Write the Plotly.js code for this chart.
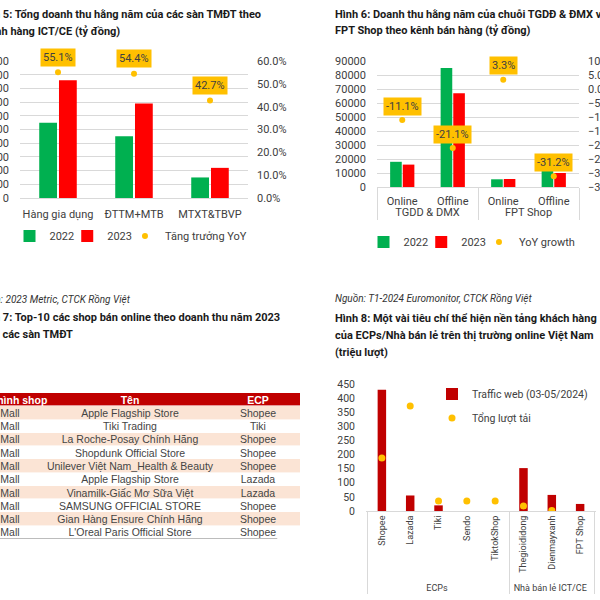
<!DOCTYPE html>
<html><head><meta charset="utf-8">
<script src="https://cdn.plot.ly/plotly-3.0.1.min.js"></script>
<style>
html,body{margin:0;padding:0;background:#fff;}
#page{position:relative;width:600px;height:600px;overflow:hidden;background:#fff;}
.p{position:absolute;}
</style></head><body>
<div id="page">
<div id="pa" class="p" style="left:-60px;top:0;width:360px;height:280px"></div>
<div id="pb" class="p" style="left:300px;top:0;width:340px;height:280px"></div>
<div id="pc" class="p" style="left:-60px;top:280px;width:360px;height:320px"></div>
<div id="pd" class="p" style="left:300px;top:280px;width:340px;height:320px"></div>
</div>
<script>
// ---------- DATA ----------
// Hình 5
const catsA = ['Hàng gia dụng', 'ĐTTM+MTB', 'MTXT&TBVP'];
const a2022 = [11000, 9000, 3000];
const a2023 = [17200, 13800, 4400];
const aYoY = [0.551, 0.544, 0.427];
// Hình 6
const groupsB = ['TGDD & DMX', 'TGDD & DMX', 'FPT Shop', 'FPT Shop'];
const chanB = ['Online', 'Offline', 'Online', 'Offline'];
const b2022 = [18000, 85000, 5500, 13000];
const b2023 = [16000, 67000, 5700, 10000];
const bYoY = [-0.111, -0.211, 0.033, -0.312];
// Hình 7
const tableHeader = ['Loại hình shop', 'Tên', 'ECP'];
const shopType = ['Mall','Mall','Mall','Mall','Mall','Mall','Mall','Mall','Mall','Mall'];
const shopName = ['Apple Flagship Store','Tiki Trading','La Roche-Posay Chính Hãng','Shopdunk Official Store',
  'Unilever Việt Nam_Health & Beauty','Apple Flagship Store','Vinamilk-Giấc Mơ Sữa Việt','SAMSUNG OFFICIAL STORE',
  'Gian Hàng Ensure Chính Hãng',"L'Oreal Paris Official Store"];
const shopECP = ['Shopee','Tiki','Shopee','Shopee','Shopee','Lazada','Lazada','Shopee','Shopee','Shopee'];
// Hình 8
const groupsD = ['ECPs','ECPs','ECPs','ECPs','ECPs','Nhà bán lẻ ICT/CE','Nhà bán lẻ ICT/CE','Nhà bán lẻ ICT/CE'];
const platD = ['Shopee','Lazada','Tiki','Sendo','TiktokShop','Thegioididong','Dienmayxanh','FPT Shop'];
const traffic = [430, 55, 20, null, null, 152, 57, 25];
const downloads = [188, 372, 35, 35, 35, 18, 2, null];

// ---------- STYLE ----------
const F = 'Roboto, "Liberation Sans", sans-serif';
const TF = '"Liberation Sans", Arial, sans-serif';
const TXT = '#404040';
const GRID = '#d9d9d9';
const GREEN = '#00b050', RED = '#ff0000', YEL = '#ffc000', DRED = '#c00000';
function mk(W,H,m){return {x:px=>(px-m.l)/(W-m.l-m.r), y:py=>1-(py-m.t)/(H-m.t-m.b)};}
function txt(c, px, py, text, opt){
  opt = opt || {};
  return {xref:'paper', yref:'paper', x:c.x(px), y:c.y(py), xanchor:'left', yanchor:'middle',
    showarrow:false, text:text,
    font:{family:F, size:opt.size||11, color:opt.color||'#1a1a1a', weight:opt.weight||700, style:opt.style||'normal'}};
}
const cfg = {displayModeBar:false, staticPlot:true};
const legH = {orientation:'h', xanchor:'center', yanchor:'middle', indentation:-12, itemwidth:30, font:{size:11,color:TXT}};

// ---------- PANEL A ----------
const mA = {l:80, r:52, t:61, b:82};
const cA = mk(360,280,mA);
Plotly.newPlot('pa', [
  {type:'bar', name:'2022', x:catsA, y:a2022, marker:{color:GREEN}},
  {type:'bar', name:'2023', x:catsA, y:a2023, marker:{color:RED}},
  {type:'scatter', mode:'markers', name:'Tăng trưởng YoY', x:catsA, y:aYoY, yaxis:'y2', marker:{color:YEL, size:6}}
], {
  width:360, height:280, margin:mA, paper_bgcolor:'rgba(0,0,0,0)', plot_bgcolor:'rgba(0,0,0,0)',
  font:{family:F, size:11, color:TXT}, showlegend:true,
  barmode:'group', bargap:0.48, bargroupgap:0.1,
  xaxis:{type:'category', showline:true, linecolor:GRID, ticks:'', ticklabelstandoff:6, tickfont:{size:11, color:TXT}},
  yaxis:{range:[0,20000], dtick:2000, tickformat:'d', gridcolor:GRID, zeroline:false, ticklabelstandoff:10, tickfont:{size:11,color:TXT}},
  yaxis2:{overlaying:'y', side:'right', range:[0,0.6], dtick:0.1, tickformat:'.1%', showgrid:false, zeroline:false, ticklabelstandoff:8, tickfont:{size:11,color:TXT}},
  legend:Object.assign({}, legH, {x:cA.x(197), y:cA.y(236)}),
  annotations:[
    txt(cA, 35, 15, 'Hình 5: Tổng doanh thu hằng năm của các sàn TMĐT theo'),
    txt(cA, 35, 32, 'ngành hàng ICT/CE (tỷ đồng)')
  ].concat(catsA.map((c,i)=>({xref:'x', yref:'y2', x:i, y:aYoY[i], yshift:15, showarrow:false,
    text:(aYoY[i]*100).toFixed(1)+'%', bgcolor:YEL, borderpad:2, font:{family:F,size:11,color:TXT}})))
}, cfg);

// ---------- PANEL B ----------
const mB = {l:77, r:61, t:61, b:93};
const cB = mk(340,280,mB);
Plotly.newPlot('pb', [
  {type:'bar', name:'2022', x:[groupsB, chanB], y:b2022, marker:{color:GREEN}},
  {type:'bar', name:'2023', x:[groupsB, chanB], y:b2023, marker:{color:RED}},
  {type:'scatter', mode:'markers', name:'YoY growth', x:[groupsB, chanB], y:bYoY, yaxis:'y2', marker:{color:YEL, size:6}}
], {
  width:340, height:280, margin:mB, paper_bgcolor:'rgba(0,0,0,0)', plot_bgcolor:'rgba(0,0,0,0)',
  font:{family:F, size:11, color:TXT}, showlegend:true,
  barmode:'group', bargap:0.5, bargroupgap:0.08,
  xaxis:{type:'multicategory', showdividers:true, dividercolor:GRID, dividerwidth:1, showline:true, linecolor:GRID, ticks:'', ticklabelstandoff:4, tickfont:{size:11,color:TXT}},
  yaxis:{range:[0,90000], dtick:10000, tickformat:'d', gridcolor:GRID, zeroline:false, ticklabelstandoff:10, tickfont:{size:11,color:TXT}},
  yaxis2:{overlaying:'y', side:'right', range:[-0.35,0.10], dtick:0.05, tickformat:'.1%', showgrid:false, zeroline:false, ticklabelstandoff:8, tickfont:{size:11,color:TXT}},
  legend:Object.assign({}, legH, {x:cB.x(178), y:cB.y(242)}),
  annotations:[
    txt(cB, 33, 14, 'Hình 6: Doanh thu hằng năm của chuỗi TGDĐ & ĐMX và'),
    txt(cB, 33, 31, 'FPT Shop theo kênh bán hàng (tỷ đồng)')
  ].concat(chanB.map((c,i)=>({xref:'x', yref:'y2', x:i, y:bYoY[i], yshift:14, showarrow:false,
    text:(bYoY[i]*100).toFixed(1)+'%', bgcolor:YEL, borderpad:2, font:{family:F,size:11,color:TXT}})))
}, cfg);

// ---------- PANEL C (table drawn as a heatmap grid) ----------
const mC = {l:35, r:0, t:113, b:61};
const cC = mk(360,320,mC);
const colWidths = [70, 170, 85];
const colEdges = colWidths.reduce((a,w)=>{a.push(a[a.length-1]+w); return a;}, [0]);
const rowEdges = [0].concat(shopName.map((s,i)=>i+1)).concat([shopName.length+1]);
const tText = [tableHeader.map(h=>'<b>'+h+'</b>')].concat(shopName.map((n,i)=>[shopType[i], n, shopECP[i]]));
const tZ = tText.map((r,i)=> r.map(()=> i===0 ? 2 : (i%2===1 ? 1 : 0)));
Plotly.newPlot('pc', [{
  type:'heatmap', x:colEdges, y:rowEdges, z:tZ, text:tText, texttemplate:'%{text}',
  textfont:{family:TF, size:10.5}, zmin:0, zmax:2, showscale:false, hoverinfo:'skip',
  colorscale:[[0,'#ffffff'],[0.5,'#fbe4d5'],[1,DRED]], ygap:0.6
}], {
  width:360, height:320, margin:mC, paper_bgcolor:'rgba(0,0,0,0)', plot_bgcolor:'rgba(0,0,0,0)',
  xaxis:{range:[0, colEdges[colEdges.length-1]], visible:false, fixedrange:true},
  yaxis:{range:[rowEdges[rowEdges.length-1], 0], visible:false, fixedrange:true},
  shapes:[{type:'line', xref:'paper', yref:'y', x0:0, x1:0.93, y0:rowEdges[rowEdges.length-1], y1:rowEdges[rowEdges.length-1], line:{color:'#a6a6a6', width:1.5}}],
  annotations:[
    txt(cC, 30, 19, 'Nguồn: 2023 Metric, CTCK Rồng Việt', {size:10, weight:400, style:'italic', color:'#333'}),
    txt(cC, 35, 38, 'Hình 7: Top-10 các shop bán online theo doanh thu năm 2023'),
    txt(cC, 38, 55, 'trên các sàn TMĐT')
  ]
}, cfg);

// ---------- PANEL D ----------
const mD = {l:66, r:44, t:104, b:89};
const cD = mk(340,320,mD);
Plotly.newPlot('pd', [
  {type:'bar', name:'Traffic web (03-05/2024)', x:[groupsD, platD], y:traffic, marker:{color:DRED}, legend:'legend', showlegend:true},
  {type:'scatter', mode:'markers', name:'Tổng lượt tải', x:[groupsD, platD], y:downloads, marker:{color:YEL, size:7}, legend:'legend2', showlegend:true}
], {
  width:340, height:320, margin:mD, paper_bgcolor:'rgba(0,0,0,0)', plot_bgcolor:'rgba(0,0,0,0)',
  font:{family:F, size:10, color:TXT}, showlegend:true,
  bargap:0.7,
  xaxis:{type:'multicategory', tickangle:-90, showdividers:true, dividercolor:GRID, dividerwidth:1, showline:true, linecolor:GRID, ticks:'', tickfont:{size:9,color:TXT}},
  yaxis:{range:[0,450], dtick:50, showgrid:false, zeroline:false, ticklabelstandoff:10, tickfont:{size:10.5,color:TXT}},
  legend:{x:cD.x(144), xanchor:'left', y:cD.y(114), yanchor:'middle', indentation:-12, font:{size:10.5,color:TXT}, itemwidth:30, bgcolor:'rgba(0,0,0,0)'},
  legend2:{x:cD.x(144), xanchor:'left', y:cD.y(138), yanchor:'middle', indentation:-12, font:{size:10.5,color:TXT}, itemwidth:30, bgcolor:'rgba(0,0,0,0)'},
  annotations:[
    txt(cD, 33, 19, 'Nguồn: T1-2024 Euromonitor, CTCK Rồng Việt', {size:10, weight:400, style:'italic', color:'#333'}),
    txt(cD, 33, 38, 'Hình 8: Một vài tiêu chí thể hiện nền tảng khách hàng'),
    txt(cD, 33, 55, 'của ECPs/Nhà bán lẻ trên thị trường online Việt Nam'),
    txt(cD, 33, 72, '(triệu lượt)')
  ]
}, cfg);
</script>
</body></html>
